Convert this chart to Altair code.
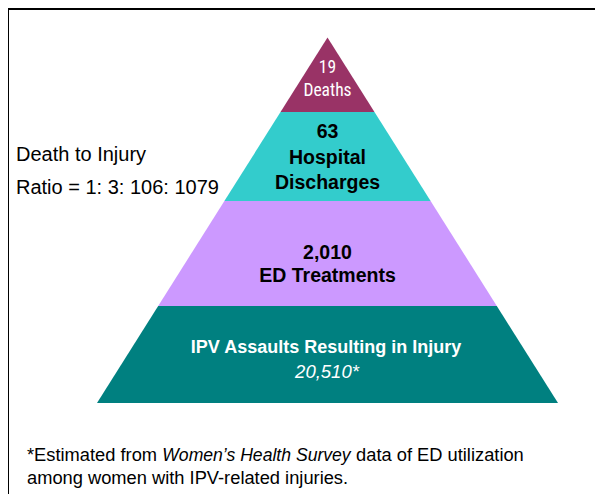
import altair as alt
import pandas as pd

# ---------------- data ----------------
tiers = ["Deaths", "Hospital Discharges", "ED Treatments", "IPV Assaults Resulting in Injury"]
counts = [19, 63, 2010, 20510]
tier_colors = ["#993366", "#33CCCC", "#CC99FF", "#008080"]
side_lines = ["Death to Injury", "Ratio = 1: 3: 106: 1079"]
foot_parts = ["*Estimated from", "Women\u2019s Health Survey", "data of ED utilization"]
foot_line2 = "among women with IPV-related injuries."

# ---------------- layout ----------------
W, H = 587, 486
OFF = 8
FONT = "Liberation Sans, Arial, sans-serif"
apex_x, apex_y = 327.5, 37.5
base_y, base_half = 403.0, 230.5
bounds = [apex_y, 112.0, 201.0, 306.0, base_y]


def half(y):
    return base_half * (y - apex_y) / (base_y - apex_y)


rows = []
for i, t in enumerate(tiers):
    for y in (bounds[i], bounds[i + 1]):
        rows.append(dict(tier=t, y=y, xl=apex_x - half(y), xr=apex_x + half(y)))
shape_df = pd.DataFrame(rows)

xs = alt.Scale(domain=[OFF, OFF + W], nice=False, zero=False)
ys = alt.Scale(domain=[OFF, OFF + H], nice=False, zero=False, reverse=True)

pyramid = alt.Chart(shape_df).mark_area(orient="horizontal").encode(
    y=alt.Y("y:Q", scale=ys, axis=None),
    x=alt.X("xl:Q", scale=xs, axis=None, stack=None),
    x2="xr:Q",
    color=alt.Color("tier:N", scale=alt.Scale(domain=tiers, range=tier_colors), legend=None),
    detail="tier:N",
)


def text_layer(items, **props):
    df = pd.DataFrame(items, columns=["x", "y", "text"])
    base = dict(font=FONT, baseline="middle")
    base.update(props)
    return alt.Chart(df).mark_text(**base).encode(
        x=alt.X("x:Q", scale=xs, axis=None),
        y=alt.Y("y:Q", scale=ys, axis=None),
        text="text:N",
    )


cx = apex_x
deaths_txt = text_layer(
    [(cx, 68, f"{counts[0]:,}"), (cx, 91, tiers[0])],
    font="Liberation Sans Narrow, Arial Narrow, Roboto Condensed, sans-serif",
    fontSize=17.5, color="white", align="center",
)
hosp_words = tiers[1].split(" ")
hosp_txt = text_layer(
    [(cx, 132, f"{counts[1]:,}"), (cx, 158, hosp_words[0]), (cx, 183, hosp_words[1])],
    fontSize=19.5, fontWeight="bold", color="black", align="center",
)
ed_txt = text_layer(
    [(cx, 253, f"{counts[2]:,}"), (cx, 276, tiers[2])],
    fontSize=19.5, fontWeight="bold", color="black", align="center",
)
ipv_txt = text_layer(
    [(326, 348, tiers[3])],
    fontSize=18, fontWeight="bold", color="white", align="center",
)
ipv_num = text_layer(
    [(327, 372, f"{counts[3]:,}*")],
    fontSize=18.5, fontStyle="italic", color="white", align="center",
)
side_txt = text_layer(
    [(16, 155, side_lines[0]), (16, 188, side_lines[1])],
    fontSize=20, color="black", align="left",
)

FS = 18.3
FSI = 17.6
SP = 0.278 * FS
x1 = 27
x2 = x1 + 7.113 * FS + SP
x3 = x2 + 10.725 * FSI + SP
foot_reg = text_layer(
    [(x1, 456, foot_parts[0]), (x3, 456, foot_parts[2]), (x1, 479, foot_line2)],
    fontSize=FS, color="black", align="left",
)
foot_it = text_layer(
    [(x2, 456, foot_parts[1])],
    fontSize=FSI, fontStyle="italic", color="black", align="left",
)

border_top = alt.Chart(shape_df).mark_rule(color="black", strokeWidth=2).encode(
    x=alt.value(-1), x2=alt.value(W), y=alt.value(1)
)
border_left = alt.Chart(shape_df).mark_rule(color="black", strokeWidth=2).encode(
    x=alt.value(0), y=alt.value(0), y2=alt.value(H)
)

chart = alt.layer(
    pyramid, deaths_txt, hosp_txt, ed_txt, ipv_txt, ipv_num, side_txt,
    foot_reg, foot_it, border_top, border_left,
).properties(
    width=W, height=H, padding=0, autosize=alt.AutoSizeParams(type="none")
).configure_view(stroke=None).configure(background="white")

chart.save("out.html", embed_options={"renderer": "svg", "actions": False})
